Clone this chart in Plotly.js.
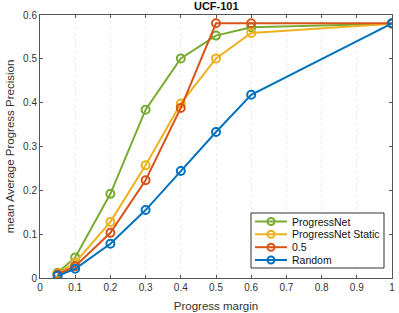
<!DOCTYPE html>
<html>
<head>
<meta charset="utf-8">
<script src="https://cdn.plot.ly/plotly-3.0.1.min.js"></script>
<style>html,body{margin:0;padding:0;background:#fff}#chart{width:399px;height:313px}</style>
</head>
<body>
<div id="chart"></div>
<script>
const margins = [0.05, 0.1, 0.2, 0.3, 0.4, 0.5, 0.6, 1.0];
const progressNet = [0.012, 0.047, 0.192, 0.384, 0.501, 0.553, 0.572, 0.580];
const progressNetStatic = [0.010, 0.035, 0.128, 0.257, 0.398, 0.501, 0.559, 0.580];
const half = [0.008, 0.027, 0.103, 0.223, 0.388, 0.581, 0.581, 0.581];
const random = [0.005, 0.021, 0.078, 0.155, 0.244, 0.333, 0.418, 0.581];
const seriesNames = ['ProgressNet', 'ProgressNet Static', '0.5', 'Random'];
const xTicks = [0, 0.1, 0.2, 0.3, 0.4, 0.5, 0.6, 0.7, 0.8, 0.9, 1];
const yTicks = [0, 0.1, 0.2, 0.3, 0.4, 0.5, 0.6];

const colors = ['#77AC30', '#EDB120', '#D95319', '#0072BD'];
const ys = [progressNet, progressNetStatic, half, random];
const traces = ys.map((y, i) => ({
  x: margins, y: y, name: seriesNames[i], type: 'scatter', mode: 'lines+markers',
  line: {color: colors[i], width: 2},
  marker: {symbol: 'circle-open', size: 8, color: colors[i], line: {width: 2, color: colors[i]}},
  showlegend: false
}));

const FONT = 'Liberation Sans, Arial, sans-serif';
const W = 399, H = 313, ML = 40, MR = 7, MT = 15, MB = 35;
const PW = W - ML - MR, PH = H - MT - MB;
const px = v => (v - ML) / PW;
const py = v => (H - MB - v) / PH;

// custom compact legend (MATLAB style)
const shapes = [{
  type: 'rect', xref: 'paper', yref: 'paper',
  x0: px(251), x1: px(384), y0: py(268), y1: py(213),
  fillcolor: '#fff', line: {color: '#333', width: 1}, layer: 'above'
}];
const annotations = [];
const rowY = [221.5, 234.3, 247.2, 260];
seriesNames.forEach((name, i) => {
  shapes.push({type: 'line', xref: 'paper', yref: 'paper', x0: px(255), x1: px(287), y0: py(rowY[i]), y1: py(rowY[i]),
    line: {color: colors[i], width: 2}, layer: 'above'});
  shapes.push({type: 'circle', xref: 'paper', yref: 'paper', x0: px(267.5), x1: px(274.5), y0: py(rowY[i] + 3.5), y1: py(rowY[i] - 3.5),
    line: {color: colors[i], width: 2}, fillcolor: 'rgba(0,0,0,0)', layer: 'above'});
  annotations.push({xref: 'paper', yref: 'paper', x: px(290), y: py(rowY[i]), xanchor: 'left', yanchor: 'middle',
    text: name, showarrow: false, font: {family: FONT, size: 10.5, color: '#111'}});
});

const axisCommon = {
  showline: true, linecolor: '#555', linewidth: 1, mirror: 'ticks',
  ticks: 'inside', ticklen: 3, tickcolor: '#555', zeroline: false,
  tickfont: {family: FONT, size: 10, color: '#333'}
};

const layout = {
  width: W, height: H,
  margin: {l: ML, r: MR, t: MT, b: MB},
  paper_bgcolor: '#fff', plot_bgcolor: '#fff',
  title: {text: '<b>UCF-101</b>', font: {family: FONT, size: 11, color: '#111'}, x: 0.542, xanchor: 'center', y: 1 - 6 / H, yanchor: 'middle'},
  xaxis: Object.assign({}, axisCommon, {
    range: [0, 1], tickvals: xTicks, ticktext: xTicks.map(String),
    showgrid: true, gridcolor: '#ebebeb', griddash: 'dot', gridwidth: 1,
    title: {text: 'Progress margin', font: {family: FONT, size: 11.5, color: '#333'}, standoff: 9}
  }),
  yaxis: Object.assign({}, axisCommon, {
    range: [0, 0.6], tickvals: yTicks, ticktext: yTicks.map(String),
    showgrid: false,
    title: {text: 'mean Average Progress Precision', font: {family: FONT, size: 11.5, color: '#333'}, standoff: 6}
  }),
  shapes: shapes,
  annotations: annotations,
  showlegend: false
};

Plotly.newPlot('chart', traces, layout, {displayModeBar: false, staticPlot: true});
</script>
</body>
</html>
